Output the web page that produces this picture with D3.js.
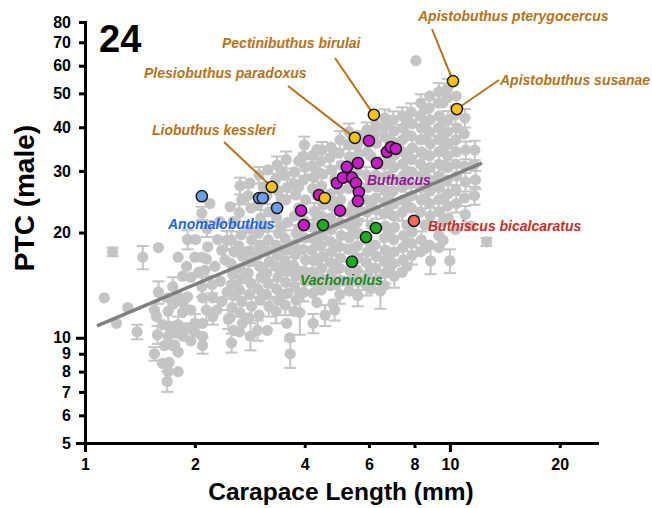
<!DOCTYPE html>
<html><head><meta charset="utf-8">
<script src="https://cdn.jsdelivr.net/npm/d3@7"></script>
<style>
html,body{margin:0;padding:0;background:#fff;}
svg{display:block;font-family:"Liberation Sans",Arial,Helvetica,sans-serif;}
</style></head><body>
<svg id="chart" width="652" height="508"></svg>
<script>
// Other buthid species: [carapace length (mm), PTC (male), sd of PTC]
const otherSpecies = [
 [1.13,13.0,0],[1.19,17.6,0.5],[1.22,11.0,0],[1.31,12.2,0],[1.39,10.4,0.5],[1.44,17.0,1.3],
 [1.59,18.1,0],[1.59,13.5,1.0],[1.55,12.0,0],[1.57,11.5,0],[1.58,10.2,0.6],[1.55,9.0,0.4],
 [1.63,10.9,0],[1.63,8.45,0],[1.69,13.0,0],[1.69,11.9,0.8],[1.71,10.7,0],[1.69,10.1,0],
 [1.70,8.5,0],[1.69,8.0,0],[1.68,7.5,0.5],[1.76,9.55,0],[1.79,10.3,0],[1.80,10.9,0.6],
 [1.80,13.1,0],[1.80,17.0,0],[1.80,9.1,0],[1.80,8.0,0],[1.74,9.5,0],[1.86,10.1,0],
 [1.90,10.7,0],[1.91,13.1,0],[1.90,16.0,0],[1.91,19.1,1.2],[2.00,17.0,0],[2.00,11.0,0.7],
 [2.00,10.4,0],[2.09,22.7,1.0],[2.09,17.0,0],[2.09,14.0,0.9],[2.10,13.0,0],[2.10,11.0,0],
 [2.10,10.1,0],[2.10,9.5,0.5],[2.20,24.2,0],[2.17,18.2,0],[2.27,16.0,0],[2.23,14.2,0.8],
 [2.24,13.0,0],[2.24,11.5,0.6],[2.31,19.1,0],[2.30,12.0,0],[2.37,12.7,0],[2.42,16.7,0],
 [2.47,11.3,0.7],[2.50,23.7,0],[2.01,19.1,0],[2.13,15.6,0],[2.37,17.8,0],[1.95,14.9,0],[2.05,15.4,0],
 [1.75,12.5,0],[1.74,14.0,0.9],[1.85,11.8,0],[1.86,12.6,0],[1.85,15.0,0],[2.15,12.0,0.8],[2.15,16.8,0],
 [2.16,20.5,1.1],[2.35,14.5,0],[2.34,21.5,0],[2.45,13.5,0],[2.45,19.0,1.2],[1.65,9.5,0],[1.95,9.8,0],[1.95,12.0,0],
 [2.55,21.5,0],[2.52,19.05,1.1],[2.56,17.6,0],[2.51,16.3,0],[2.54,15.2,0.9],[2.52,14.2,0],[2.56,13.2,0],[2.53,12.2,0.7],[2.50,11.4,0],[2.55,10.5,0],[2.52,9.67,0.6],
 [2.66,27.2,1.5],[2.69,24.8,0],[2.65,22.8,1.3],[2.68,19.7,0],[2.64,18.3,0],[2.70,17.1,1.0],[2.66,15.8,0],[2.68,14.7,0],[2.65,13.7,0.8],[2.69,12.7,0],[2.66,11.8,0],[2.70,11.0,0.7],[2.65,10.4,0],
 [2.83,27.7,0],[2.80,25.5,1.4],[2.85,23.5,0],[2.82,20.5,0],[2.86,19.05,1.1],[2.81,17.7,0],[2.84,16.5,0],[2.80,15.3,0.9],[2.85,14.3,0],[2.82,13.3,0],[2.86,12.3,0.8],[2.81,11.4,0],[2.84,10.1,0.9],
 [3.00,29.2,1.6],[2.98,24.0,0],[3.03,22.0,1.2],[2.99,19.9,0],[3.02,18.4,0],[2.97,17.2,1.0],[3.01,16.0,0],[3.04,14.9,0],[2.98,13.8,0.8],[3.02,12.8,0],[3.00,11.6,0],[2.97,10.5,0.7],
 [3.17,30.2,0],[3.15,25.5,1.4],[3.19,22.9,0],[3.14,20.7,0],[3.18,19.05,1.1],[3.16,17.7,0],[3.20,16.5,0],[3.15,15.3,0.9],[3.18,14.3,0],[3.14,13.3,0],[3.19,12.3,0.8],[3.16,10.5,0],
 [3.36,31.2,1.8],[3.33,28.3,0],[3.38,26.3,0],[3.35,22.0,1.2],[3.39,19.9,0],[3.34,18.4,0],[3.37,17.2,1.0],[3.33,16.0,0],[3.38,14.9,0],[3.35,13.8,0.8],[3.39,12.8,0],[3.34,11.9,0.9],
 [3.56,32.3,1.8],[3.53,29.2,0],[3.58,26.9,1.5],[3.55,24.8,0],[3.59,21.4,0],[3.54,19.2,1.1],[3.57,17.8,0],[3.53,16.6,0],[3.58,15.5,0.9],[3.55,14.4,0],[3.59,13.4,0],[3.54,12.4,0.8],[3.57,11.0,0],[3.64,10.0,0],[3.65,9.0,0.8],
 [3.76,29.8,0],[3.73,27.6,1.5],[3.78,25.6,0],[3.75,22.3,0],[3.79,19.9,1.1],[3.74,18.5,0],[3.77,17.3,0],[3.73,16.1,0.9],[3.78,15.0,0],[3.75,14.0,0],[3.79,12.8,0.8],[3.74,11.9,0],
 [3.99,35.6,2.0],[3.96,33.1,0],[4.01,30.7,1.7],[3.97,28.3,0],[4.02,24.8,0],[3.98,21.6,1.2],[4.00,19.3,0],[3.96,17.9,0],[4.02,16.7,1.0],[3.98,15.5,0],[4.01,14.5,0],[3.97,13.5,0.8],[3.88,11.8,1.6],
 [4.22,33.3,0],[4.19,31.0,1.7],[4.24,28.7,0],[4.20,26.7,0],[4.25,23.0,1.3],[4.21,20.7,0],[4.23,19.2,0],[4.19,17.8,1.0],[4.24,16.6,0],[4.20,15.4,0],[4.25,14.4,0.9],[4.21,13.4,0],[4.22,11.0,0.7],
 [4.46,34.4,1.9],[4.43,32.0,0],[4.48,29.4,0],[4.45,27.2,1.5],[4.49,24.0,0],[4.44,22.3,0],[4.47,19.7,1.1],[4.43,18.3,0],[4.48,17.1,0],[4.45,15.8,0.9],[4.49,14.7,0],[4.44,13.7,0],[4.55,11.6,0.8],
 [4.72,35.1,0],[4.69,32.7,1.8],[4.74,30.2,0],[4.70,25.8,0],[4.75,23.8,1.3],[4.71,22.0,0],[4.73,20.4,0],[4.69,18.9,1.1],[4.74,17.6,0],[4.70,16.4,0],[4.75,15.3,0.9],[4.71,14.1,0],[4.78,12.5,0],[4.83,12.0,0.8],
 [5.00,36.8,2.2],[4.97,33.7,0],[5.03,31.2,0],[4.98,26.5,1.5],[5.02,24.8,0],[4.99,21.4,0],[5.03,19.6,1.1],[4.97,18.2,0],[5.01,16.9,0],[4.98,15.8,0.9],[5.02,14.6,0],[4.99,13.3,0.8],
 [5.29,38.8,2.2],[5.26,35.6,0],[5.31,32.9,1.8],[5.27,26.7,0],[5.32,22.9,0],[5.28,21.1,1.2],[5.30,19.3,0],[5.26,17.9,0],[5.31,15.6,0.9],[5.27,14.5,0],[5.30,13.6,0],
 [5.60,38.0,0],[5.57,35.6,2.0],[5.62,33.6,0],[5.58,29.8,0],[5.61,23.2,1.3],[5.57,21.4,0],[5.62,19.9,0],[5.58,18.3,1.0],[5.61,16.9,0],[5.57,15.6,0],[5.62,14.6,0.9],[5.59,13.2,0.9],
 [5.92,39.3,2.0],[5.89,37.0,0],[5.94,34.0,0],[5.90,29.2,1.6],[5.95,26.9,0],[5.91,24.8,0],[5.93,22.9,1.3],[5.89,19.05,0],[5.94,17.6,0],[5.90,16.4,1.0],[5.95,15.1,0],[5.91,14.1,0.9],
 [6.27,40.6,2.2],[6.24,38.3,0],[6.29,36.0,0],[6.25,29.2,1.6],[6.30,27.0,0],[6.26,25.1,0],[6.28,23.2,1.3],[6.24,18.4,0],[6.29,17.1,0],[6.25,15.8,1.0],[6.30,14.6,0],[6.45,13.6,1.5],
 [6.63,42.5,2.5],[6.60,40.0,0],[6.65,37.5,0],[6.61,31.2,1.7],[6.66,28.7,0],[6.62,26.5,0],[6.64,24.4,1.4],[6.60,22.6,0],[6.65,20.9,0],[6.61,19.3,1.1],[6.66,17.8,0],[6.62,16.5,0],[6.64,15.3,1.0],[6.60,14.1,0],
 [6.99,42.0,2.4],[7.04,39.0,0],[7.00,36.3,0],[7.05,33.3,1.9],[7.01,30.7,0],[7.03,28.3,0],[6.99,26.3,1.5],[7.04,24.2,0],[7.00,22.3,0],[7.05,20.7,1.2],[7.01,19.05,0],[7.03,17.6,0],[6.99,16.3,1.0],[7.04,15.0,1.1],
 [7.40,43.1,2.5],[7.45,39.8,0],[7.41,36.8,2.1],[7.46,34.0,0],[7.42,31.4,0],[7.44,29.0,1.7],[7.40,26.9,0],[7.45,24.8,0],[7.41,22.9,1.3],[7.46,19.6,0],[7.42,18.1,0],[7.44,16.7,1.0],[7.40,15.4,0],
 [7.83,44.2,2.6],[7.88,40.9,0],[7.84,37.8,0],[7.89,34.9,2.0],[7.85,32.3,0],[7.87,29.8,0],[7.83,27.6,1.6],[7.88,25.5,0],[7.84,23.5,0],[7.89,20.1,1.2],[7.85,18.6,0],[7.87,17.2,1.0],
 [8.32,46.9,2.8],[8.29,43.1,0],[8.34,39.8,2.3],[8.30,36.8,0],[8.35,34.0,0],[8.31,31.4,1.8],[8.33,29.0,0],[8.29,26.9,0],[8.34,24.8,1.4],[8.30,22.9,0],[8.35,19.05,1.1],[8.31,17.6,0],
 [8.81,49.1,0],[8.78,45.4,2.7],[8.83,42.0,0],[8.79,38.8,0],[8.84,35.9,2.1],[8.80,33.1,0],[8.82,30.7,0],[8.78,28.3,1.7],[8.83,26.3,0],[8.79,24.2,0],[8.84,22.3,1.3],[8.80,18.4,0],[8.85,16.6,1.4],
 [9.33,50.5,3.0],[9.30,46.9,0],[9.35,43.1,0],[9.31,39.8,2.3],[9.36,36.8,0],[9.32,34.0,0],[9.34,31.4,1.8],[9.30,29.0,0],[9.35,26.9,0],[9.31,24.8,1.4],[9.36,22.9,0],[9.32,19.6,1.2],[9.34,18.1,0],
 [9.87,51.8,3.2],[9.84,48.6,0],[9.89,42.0,2.5],[9.85,38.8,0],[9.90,35.9,0],[9.86,33.1,2.0],[9.88,30.7,0],[9.84,28.3,0],[9.89,25.8,1.5],[9.85,23.8,0],[9.90,22.0,0],[10.0,16.6,1.3],
 [10.4,49.1,0],[10.35,43.4,2.6],[10.45,39.8,0],[10.38,36.8,2.2],[10.42,34.0,0],[10.37,31.4,0],[10.43,29.0,1.7],[10.39,26.5,0],[10.41,24.2,1.4],[10.36,20.4,0],
 [11.0,42.5,2.6],[10.95,38.3,0],[11.05,34.4,2.0],[10.98,31.0,0],[11.03,27.9,1.7],[10.97,25.1,0],[11.02,22.5,1.3],
 [11.7,34.4,2.2],[11.65,31.2,0],[11.75,28.3,1.7],[11.68,25.5,1.5],
 [12.6,18.8,0.5],[8.07,62.0,0],[11.4,20.9,0],
 [3.08,27.0,0],[3.08,21.0,0],[3.08,17.8,0],[3.08,15.6,0],[3.08,13.3,0],
 [3.45,30.0,0],[3.45,25.0,0],[3.45,20.8,0],[3.45,17.9,0],[3.45,15.5,0],[3.45,13.3,0],
 [3.85,32.0,0],[3.85,27.0,0],[3.85,23.5,0],[3.85,20.5,0],[3.85,17.8,0],[3.85,15.5,0],[3.85,13.0,0],
 [4.32,34.5,0],[4.32,30.0,0],[4.32,25.5,0],[4.32,22.0,0],[4.32,19.0,0],[4.32,16.8,0],[4.32,14.7,0],[4.32,12.6,0],
 [4.84,34.0,0],[4.84,28.5,0],[4.84,24.5,0],[4.84,21.0,0],[4.84,18.5,0],[4.84,16.2,0],[4.84,14.2,0],
 [5.43,37.0,0],[5.43,31.0,0],[5.43,27.5,0],[5.43,24.0,0],[5.43,20.5,0],[5.43,18.0,0],[5.43,15.5,0],
 [6.08,38.0,0],[6.08,33.0,0],[6.08,28.0,0],[6.08,24.0,0],[6.08,21.0,0],[6.08,18.0,0],[6.08,15.8,0],[6.08,13.8,0],
 [6.77,41.0,0],[6.77,37.0,0],[6.77,32.0,0],[6.77,29.0,0],[6.77,25.5,0],[6.77,23.0,0],[6.77,20.0,0],[6.77,17.0,0],[6.77,15.5,0],
 [7.63,42.0,0],[7.63,38.0,0],[7.63,33.0,0],[7.63,30.0,0],[7.63,27.5,0],[7.63,24.0,0],[7.63,21.0,0],[7.63,18.8,0],[7.63,16.0,0],
 [8.54,45.0,0],[8.54,40.5,0],[8.54,37.0,0],[8.54,33.5,0],[8.54,30.0,0],[8.54,27.5,0],[8.54,25.0,0],[8.54,21.0,0],[8.54,18.0,0],
 [9.58,47.0,0],[9.58,41.5,0],[9.58,37.5,0],[9.58,34.5,0],[9.58,31.0,0],[9.58,28.0,0],[9.58,25.0,0],[9.58,21.5,0],[9.58,19.0,0]
];

// Highlighted genera: [carapace length (mm), PTC (male)]
const anomalobuthus = [[2.09,25.4],[3.00,25.1],[3.07,25.1],[3.36,23.5]];
const buthacus = [
 [3.91,23.1],[3.98,21.0],[4.38,25.6],[4.90,27.7],[5.00,23.1],[5.09,28.7],[5.22,30.8],[5.39,28.7],
 [5.53,27.7],[5.60,31.6],[5.63,26.1],[5.60,24.6],[6.00,36.6],[6.31,31.6],[6.72,34.0],[6.89,35.1],[7.11,34.7]
];
const vachoniolus = [[4.49,21.0],[6.27,20.6],[5.89,19.4],[5.39,16.5]];
const buthiscus = [[7.97,21.6]];
const namedSpecies = ["Liobuthus kessleri","Plesiobuthus paradoxus","Pectinibuthus birulai","Apistobuthus pterygocercus","Apistobuthus susanae",""];
const namedLength = [3.25,5.49,6.19,10.2,10.45,4.54];
const namedPTC = [27.0,37.3,43.4,54.2,45.1,25.1];

// Allometric fit (log-log regression)
const fitLength = [1.079,12.24];
const fitPTC = [10.82,31.6];

const xTickValues = [1,2,4,6,8,10,20];
const yTickValues = [5,6,7,8,9,10,20,30,40,50,60,70,80];

// ---- layout ----
const svg = d3.select("#chart");
const x = d3.scaleLog().domain([1, 25.3]).range([85, 597]);
const y = d3.scaleLog().domain([5, 80]).range([443, 22]);
const FONT = '"Liberation Sans",Arial,Helvetica,sans-serif';
const GRAY = "#c4c4c4";

// error bars of the background species
const bars = svg.append("g").attr("stroke", GRAY).attr("stroke-width", 2).attr("fill","none");
otherSpecies.filter(d => d[2] > 0).forEach(d => {
  const cx = x(d[0]), y0 = y(d[1] - d[2]), y1 = y(d[1] + d[2]);
  bars.append("line").attr("x1", cx).attr("x2", cx).attr("y1", y0).attr("y2", y1);
  bars.append("line").attr("x1", cx - 6).attr("x2", cx + 6).attr("y1", y0).attr("y2", y0);
  bars.append("line").attr("x1", cx - 6).attr("x2", cx + 6).attr("y1", y1).attr("y2", y1);
});
svg.append("g").selectAll("circle").data(otherSpecies).join("circle")
  .attr("cx", d => x(d[0])).attr("cy", d => y(d[1])).attr("r", 5.6).attr("fill", GRAY);

// regression line
svg.append("path")
  .datum(fitLength.map((v, i) => [v, fitPTC[i]]))
  .attr("d", d3.line().x(d => x(d[0])).y(d => y(d[1])))
  .attr("stroke", "#7f7f7f").attr("stroke-width", 3.5).attr("fill", "none");

// label placement for the named species (pixel layout)
const BROWN = "#b5731a";
const namedLayout = [
  {tx:152, ty:135, lx:224, ly:142},
  {tx:144, ty:78,  lx:288, ly:86},
  {tx:222, ty:48,  lx:335, ly:58},
  {tx:418, ty:21,  lx:432, ly:29},
  {tx:500, ty:85,  lx:499, ly:80},
  null
];
namedSpecies.forEach((name, i) => {
  const L = namedLayout[i];
  if (!L) return;
  svg.append("line").attr("x1", L.lx).attr("y1", L.ly)
    .attr("x2", x(namedLength[i])).attr("y2", y(namedPTC[i]))
    .attr("stroke", BROWN).attr("stroke-width", 2);
  svg.append("text").attr("x", L.tx).attr("y", L.ty).text(name)
    .attr("font-family", FONT).attr("font-size", 14).attr("font-weight", "bold")
    .attr("font-style", "italic").attr("fill", BROWN);
});

function dots(data, fill) {
  svg.append("g").selectAll("circle").data(data).join("circle")
    .attr("cx", d => x(d[0])).attr("cy", d => y(d[1])).attr("r", 5.6)
    .attr("fill", fill).attr("stroke", "#1a1a1a").attr("stroke-width", 1.5);
}
dots(anomalobuthus, "#6f9de8");
dots(buthacus, "#c71ec7");
dots(namedLength.map((v, i) => [v, namedPTC[i]]), "#f6c01e");
dots(vachoniolus, "#22aa22");
dots(buthiscus, "#ef6b5c");

function genusLabel(txt, px, py, color) {
  svg.append("text").attr("x", px).attr("y", py).text(txt)
    .attr("font-family", FONT).attr("font-size", 14).attr("font-weight", "bold")
    .attr("font-style", "italic").attr("fill", color);
}
genusLabel("Buthacus", 367, 185, "#8e1a90");
genusLabel("Anomalobuthus", 168, 229, "#1f62dc");
genusLabel("Buthiscus bicalcaratus", 428, 231, "#c4302a");
genusLabel("Vachoniolus", 300, 285, "#1b8a1b");

// axes
const gx = svg.append("g").attr("transform", "translate(0,443)")
  .call(d3.axisBottom(x).tickValues(xTickValues).tickFormat(d3.format("d"))
    .tickSize(5).tickSizeOuter(0).tickPadding(11));
const gy = svg.append("g").attr("transform", "translate(85,0)")
  .call(d3.axisLeft(y).tickValues(yTickValues).tickFormat(d3.format("d"))
    .tickSize(6).tickSizeOuter(0).tickPadding(8));
[gx, gy].forEach(g => {
  g.attr("font-family", FONT).attr("font-size", 16).attr("font-weight", "bold");
  g.select(".domain").attr("stroke", "#000").attr("stroke-width", 3).attr("stroke-linecap", "square");
  g.selectAll(".tick line").attr("stroke", "#000").attr("stroke-width", 3);
  g.selectAll(".tick text").attr("fill", "#000");
});
gx.selectAll(".tick line").attr("y2", d => (d === 1 || d === 10) ? 9 : 5);
gy.selectAll(".tick line").attr("x2", d => (d === 10 || d === 5) ? -9 : -6);

// titles
svg.append("text").attr("x", 341).attr("y", 500).attr("text-anchor", "middle")
  .attr("font-family", FONT).attr("font-size", 24.5).attr("font-weight", "bold")
  .text("Carapace Length (mm)");
svg.append("text").attr("transform", "translate(34,198) rotate(-90)").attr("text-anchor", "middle")
  .attr("font-family", FONT).attr("font-size", 28).attr("font-weight", "bold")
  .text("PTC (male)");
svg.append("text").attr("x", 99).attr("y", 52)
  .attr("font-family", FONT).attr("font-size", 38).attr("font-weight", "bold")
  .text("24");
</script>
</body></html>
